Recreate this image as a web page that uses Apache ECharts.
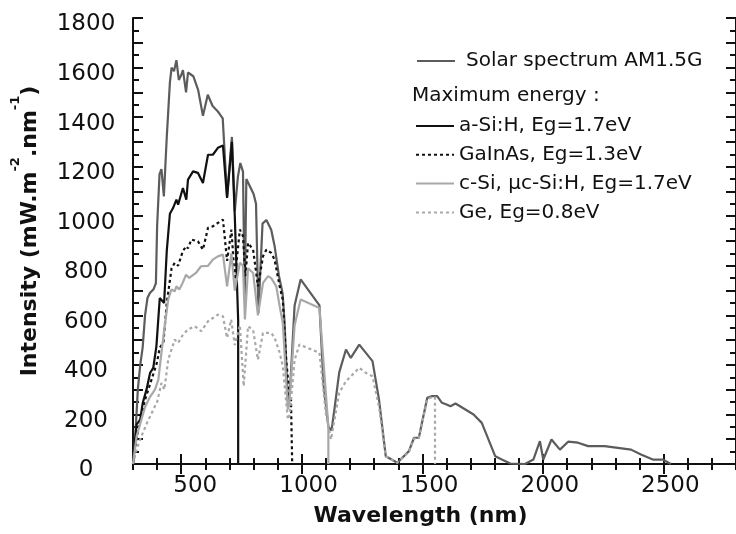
<!DOCTYPE html>
<html>
<head>
<meta charset="utf-8">
<script src="https://cdn.jsdelivr.net/npm/echarts@6/dist/echarts.min.js"></script>
<style>html,body{margin:0;padding:0;background:#fff}#c{width:736px;height:534px}</style>
</head>
<body>
<div id="c"></div>
<script>
// ---- data (wavelength nm, intensity mW.m-2.nm-1) ----
const solarX = [300,310,320,330,340,350,360,370,385,395,400,410,418,428,440,453,460,470,480,490,500,507,520,528,550,570,590,610,630,650,672,690,710,722,735,745,756,763,770,780,800,810,820,837,853,873,887,905,920,928,942,950,970,995,1073,1090,1110,1123,1135,1155,1183,1203,1238,1293,1320,1348,1396,1444,1465,1485,1520,1540,1561,1581,1600,1616,1637,1678,1712,1746,1802,1829,1864,1925,1960,1987,2001,2035,2070,2104,2145,2187,2255,2310,2365,2406,2455,2496,2530];
const solarY = [0,120,300,400,470,600,670,690,705,730,960,1170,1190,1080,1320,1540,1600,1585,1630,1550,1570,1590,1500,1580,1565,1510,1405,1490,1445,1425,1395,1080,1320,1020,1160,1215,1180,660,1150,1130,1090,1050,610,970,985,945,880,760,690,580,250,280,640,745,640,320,150,135,220,370,462,428,482,415,260,31,5,52,106,106,267,274,274,247,240,233,244,220,200,166,31,18,2,0,18,92,18,99,58,90,86,72,72,65,58,38,18,18,0];

const aSiX = [300,315,330,340,356,371,384,397,411,418,429,440,453,466,480,487,507,521,528,549,569,590,611,631,652,673,690,710,722,736,736];
const aSiY = [0,160,179,245,300,368,388,475,670,677,650,860,1010,1033,1067,1047,1114,1067,1148,1181,1175,1134,1248,1248,1276,1285,1074,1300,1000,580,0];

const gaInAsX = [300,308,322,340,351,370,399,411,426,440,460,473,487,507,521,528,542,569,590,611,631,652,673,690,708,722,743,756,766,777,798,818,839,853,873,887,908,921,935,949,955,960];
const gaInAsY = [0,58,140,220,262,320,408,470,489,650,790,812,800,860,879,870,906,899,865,953,959,973,986,820,946,744,946,920,758,892,865,717,838,865,852,825,717,664,422,274,260,0];

const cSiX = [300,315,335,350,370,391,405,418,432,446,459,473,480,492,506,520,533,561,582,611,631,652,673,690,708,722,743,756,764,777,798,818,839,860,873,894,908,921,942,948,970,995,1073,1110,1110];
const cSiY = [0,112,180,230,270,300,340,450,560,664,704,697,717,704,731,764,751,771,798,800,825,838,845,717,850,700,812,800,583,790,771,600,731,758,750,717,637,570,220,240,560,664,630,150,0];

const geX = [300,315,335,360,391,400,418,430,446,473,487,507,528,556,583,611,652,673,690,707,722,743,759,777,798,818,839,873,887,908,921,942,950,970,990,1073,1100,1121,1155,1183,1238,1265,1293,1320,1348,1396,1444,1465,1485,1520,1540,1552,1552];
const geY = [0,60,112,170,233,250,327,300,421,502,489,522,543,556,536,576,603,596,509,583,480,560,314,556,540,421,529,529,510,449,395,180,200,420,482,449,200,99,287,334,388,368,354,230,31,5,50,103,104,262,270,270,0];

const xTickLabels = [500,1000,1500,2000,2500];
const yTickLabels = [0,200,400,600,800,1000,1200,1400,1600,1800];
const seriesNames = ['Solar spectrum AM1.5G','a-Si:H, Eg=1.7eV','GaInAs, Eg=1.3eV','c-Si, \u03bcc-Si:H, Eg=1.7eV','Ge, Eg=0.8eV'];

// ---- chart ----
const FONT = 'DejaVu Sans';
const INK = '#111';
const zip = (xs, ys) => xs.map((x, i) => [x, ys[i]]);
const plain = v => String(v);

function xAx(pos, major, withLabel) {
  const a = {
    type: 'value', position: pos, min: 300, max: 2800, interval: 100,
    axisLine: { show: !major, lineStyle: { color: INK, width: 2 } },
    axisTick: { show: true, inside: true, length: major ? 10 : 6, lineStyle: { color: INK, width: 2 } },
    axisLabel: { show: false },
    splitLine: { show: false }
  };
  if (major) a.axisTick.customValues = xTickLabels;
  if (withLabel) {
    a.axisLabel = { show: true, customValues: xTickLabels, formatter: plain, fontFamily: FONT, fontSize: 23, color: INK,
      align: 'right', padding: [0, -36, 0, 0], margin: 11 };
    a.name = 'Wavelength (nm)';
    a.nameLocation = 'middle';
    a.nameGap = 41;
    a.nameTextStyle = { fontFamily: FONT, fontWeight: 'bold', fontSize: 22, color: INK, padding: [0, 28, 0, 0] };
  }
  return a;
}
function yAx(pos, major, withLabel) {
  const a = {
    type: 'value', position: pos, min: 0, max: 1800, interval: major ? 100 : 50,
    axisLine: { show: !major, lineStyle: { color: INK, width: 2 } },
    axisTick: { show: true, inside: true, length: major ? 10 : 6, lineStyle: { color: INK, width: 2 } },
    axisLabel: { show: false },
    splitLine: { show: false }
  };
  if (withLabel) {
    a.axisLabel = { show: true, customValues: yTickLabels, formatter: plain, fontFamily: FONT, fontSize: 23, color: INK,
      align: 'center', margin: 47, verticalAlign: 'top', lineHeight: 13 };
    a.name = '{m|Intensity (mW.m}{s|-2}{m|.nm}{s|-1}{m|)}';
    a.nameLocation = 'middle';
    a.nameRotate = 90;
    a.nameGap = 92;
    a.nameTextStyle = {
      padding: [0, 0, 0, 20],
      rich: {
        m: { fontFamily: FONT, fontWeight: 'bold', fontSize: 22, color: INK, lineHeight: 32, verticalAlign: 'bottom' },
        s: { fontFamily: FONT, fontWeight: 'bold', fontSize: 13, color: INK, lineHeight: 14, verticalAlign: 'top' }
      }
    };
  }
  return a;
}

const styles = [
  { color: '#5c5c5c', type: 'solid' },
  { color: '#111111', type: 'solid' },
  { color: '#111111', type: [3, 3] },
  { color: '#a8a8a8', type: 'solid' },
  { color: '#a8a8a8', type: [3, 3] }
];
const datas = [zip(solarX, solarY), zip(aSiX, aSiY), zip(gaInAsX, gaInAsY), zip(cSiX, cSiY), zip(geX, geY)];

const series = seriesNames.map((n, i) => ({
  name: n, type: 'line', data: datas[i], symbol: 'none', silent: true,
  lineStyle: { color: styles[i].color, width: 2.2, type: styles[i].type },
  itemStyle: { color: styles[i].color },
  z: 2 + i
}));

const legendText = { fontFamily: FONT, fontSize: 20, color: INK, padding: [0, 0, 0, 6] };
const option = {
  animation: false,
  backgroundColor: '#ffffff',
  grid: { left: 133, right: -3, top: 18, bottom: 70, containLabel: false },
  xAxis: [xAx('bottom', false, true), xAx('bottom', true, false), xAx('top', false, false), xAx('top', true, false)],
  yAxis: [yAx('left', false, true), yAx('left', true, false), yAx('right', false, false), yAx('right', true, false)],
  legend: [
    { data: [seriesNames[0]], left: 411, top: 46, itemWidth: 38, itemHeight: 14,
      itemStyle: { opacity: 0 }, textStyle: legendText, selectedMode: false },
    { data: seriesNames.slice(1), orient: 'vertical', left: 410, top: 111, itemWidth: 38, itemHeight: 14, itemGap: 8.8,
      itemStyle: { opacity: 0 }, textStyle: Object.assign({}, legendText, { padding: [0, 0, 0, 0] }), selectedMode: false }
  ],
  graphic: [
    { type: 'text', left: 412, top: 86, style: { text: 'Maximum energy :', font: '20px "DejaVu Sans"', fill: INK } }
  ],
  series: series
};

const chart = echarts.init(document.getElementById('c'), null, { renderer: 'canvas' });
chart.setOption(option);
</script>
</body>
</html>
